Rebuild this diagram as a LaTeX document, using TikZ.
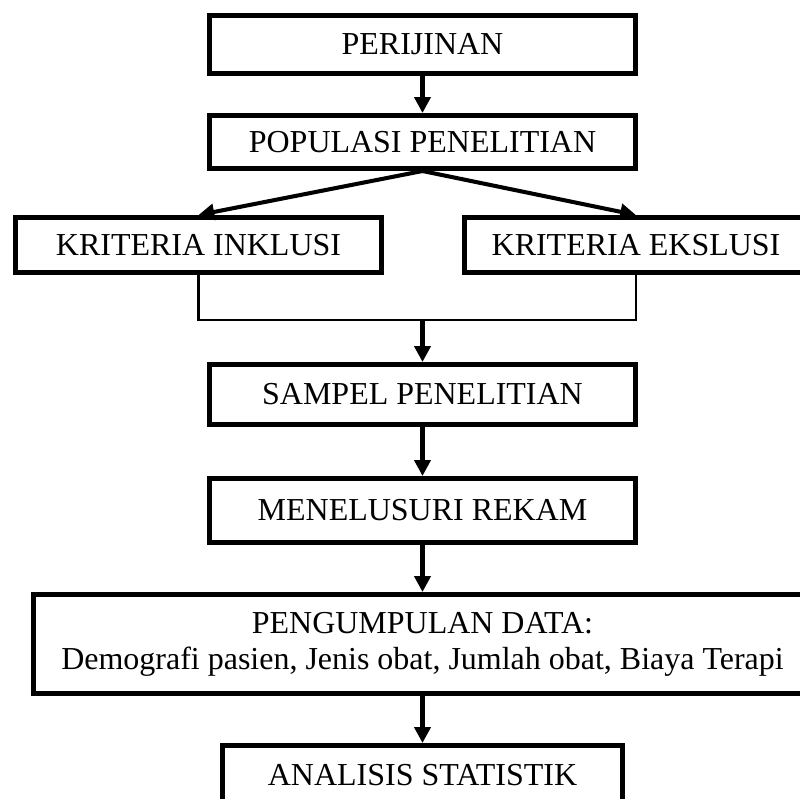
\documentclass[tikz,border=0pt]{standalone}
\usepackage{fontspec}
\setmainfont{Liberation Serif}
\usetikzlibrary{arrows.meta}

\begin{document}
\begin{tikzpicture}[x=0.02cm,y=-0.02cm,
  box/.style={draw,line width=2.85pt,inner sep=0pt,align=center,
    font=\fontsize{18.2}{20.5}\selectfont},
  arr/.style={line width=2.3pt,-{Triangle[length=9pt,width=9pt]}},
  link/.style={line width=1.6pt}]
  \path[use as bounding box,clip] (0,0) rectangle (800,798);
  \node (perijinan) at (422.5,44.5) [box,minimum width=8.52cm,minimum height=1.16cm] {PERIJINAN};
  \node (populasi) at (422.5,142) [box,minimum width=8.52cm,minimum height=1.06cm] {POPULASI PENELITIAN};
  \node (inklusi) at (198.5,245) [box,minimum width=7.32cm,minimum height=1.1cm] {KRITERIA INKLUSI};
  \node (eksklusi) at (636,245) [box,minimum width=6.86cm,minimum height=1.1cm] {KRITERIA EKSLUSI};
  \node (sampel) at (422.5,394.5) [box,minimum width=8.52cm,minimum height=1.2cm] {SAMPEL PENELITIAN};
  \node (rekam) at (422.5,510.5) [box,minimum width=8.52cm,minimum height=1.28cm] {MENELUSURI REKAM};
  \node (data) at (422.5,644) [box,minimum width=15.56cm,minimum height=1.98cm]
    {PENGUMPULAN DATA:\\Demografi pasien, Jenis obat, Jumlah obat, Biaya Terapi};
  \node (analisis) at (422.5,775.5) [box,minimum width=8.02cm,minimum height=1.2cm] {ANALISIS STATISTIK};
  \coordinate (join) at (422.5,320);
  \draw[arr] (perijinan) to (populasi);
  \draw[arr] (populasi.south) to (inklusi.north);
  \draw[arr] (populasi.south) to (eksklusi.north);
  \draw[link] (inklusi.south) -- (inklusi.south |- join) -- (eksklusi.south |- join) -- (eksklusi.south);
  \draw[arr] (join) to (sampel);
  \draw[arr] (sampel) to (rekam);
  \draw[arr] (rekam) to (data);
  \draw[arr] (data) to (analisis);
\end{tikzpicture}
\end{document}
